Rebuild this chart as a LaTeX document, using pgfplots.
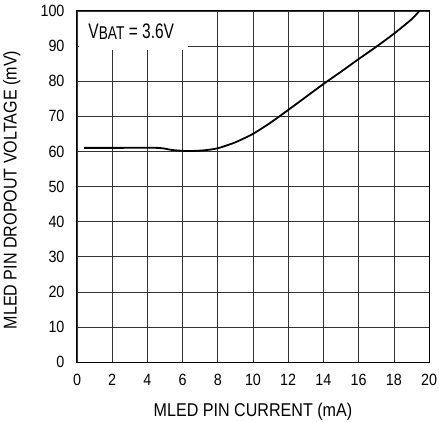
\documentclass[border=0pt]{standalone}
\usepackage{fontspec}
\setmainfont{Liberation Sans}
\newfontfamily\tickfont{Liberation Sans}[FakeStretch=0.88]
\newfontfamily\labfont{Liberation Sans}[FakeStretch=0.87]
\newfontfamily\annfont{Liberation Sans}[FakeStretch=0.74]
\usepackage{pgfplots}
\pgfplotsset{compat=1.18}
\begin{document}
\begin{tikzpicture}
\begin{axis}[
  name=ax,
  scale only axis,
  width=352pt, height=351pt,
  xmin=0, xmax=20, ymin=0, ymax=100,
  xtick={0,2,...,20}, ytick={0,10,...,100},
  grid=major,
  major grid style={black!80, line width=0.6pt},
  axis line style={black, line width=1pt},
  major tick length=0pt,
  /pgf/number format/assume math mode=true,
  tick label style={font=\tickfont\fontsize{16.3}{18}\selectfont},
  xticklabel style={yshift=-9pt},
  yticklabel style={xshift=-9pt},
  xlabel={MLED PIN CURRENT (mA)},
  ylabel={MLED PIN DROPOUT VOLTAGE (mV)},
  every axis x label/.style={at={(axis description cs:0.5,-0.142)}, anchor=center, font=\labfont\fontsize{18.5}{20}\selectfont},
  every axis y label/.style={at={(axis description cs:-0.185,0.49)}, anchor=center, rotate=90, font=\labfont\fontsize{18.5}{20}\selectfont},
]
\fill[white] (axis cs:0.12,88.8) rectangle (axis cs:6.3,99.85);
\node[anchor=base west, font=\annfont\fontsize{21}{23}\selectfont, inner sep=0pt] at (axis cs:0.64,92.2)
  {V\raisebox{-1.5pt}{\fontsize{18.5}{20}\selectfont BAT} = 3.6V};
\addplot[black, line width=1.8pt, smooth, tension=0.4] coordinates {
  (0.4,61) (2,61) (4.6,61) (5.4,60.4) (6.3,60.1) (7.2,60.3) (8,60.9)
  (9,62.6) (10,65) (11,68.2) (12,71.8) (13,75.5) (14,79.2)
  (15,82.7) (16,86.3) (17,89.8) (18,93.5) (19,97.6) (19.45,100)
};
\end{axis}
\pgfresetboundingbox
\path[use as bounding box] ([xshift=-77pt,yshift=-59pt]ax.south west) rectangle ([xshift=10pt,yshift=11pt]ax.north east);
\end{tikzpicture}
\end{document}
